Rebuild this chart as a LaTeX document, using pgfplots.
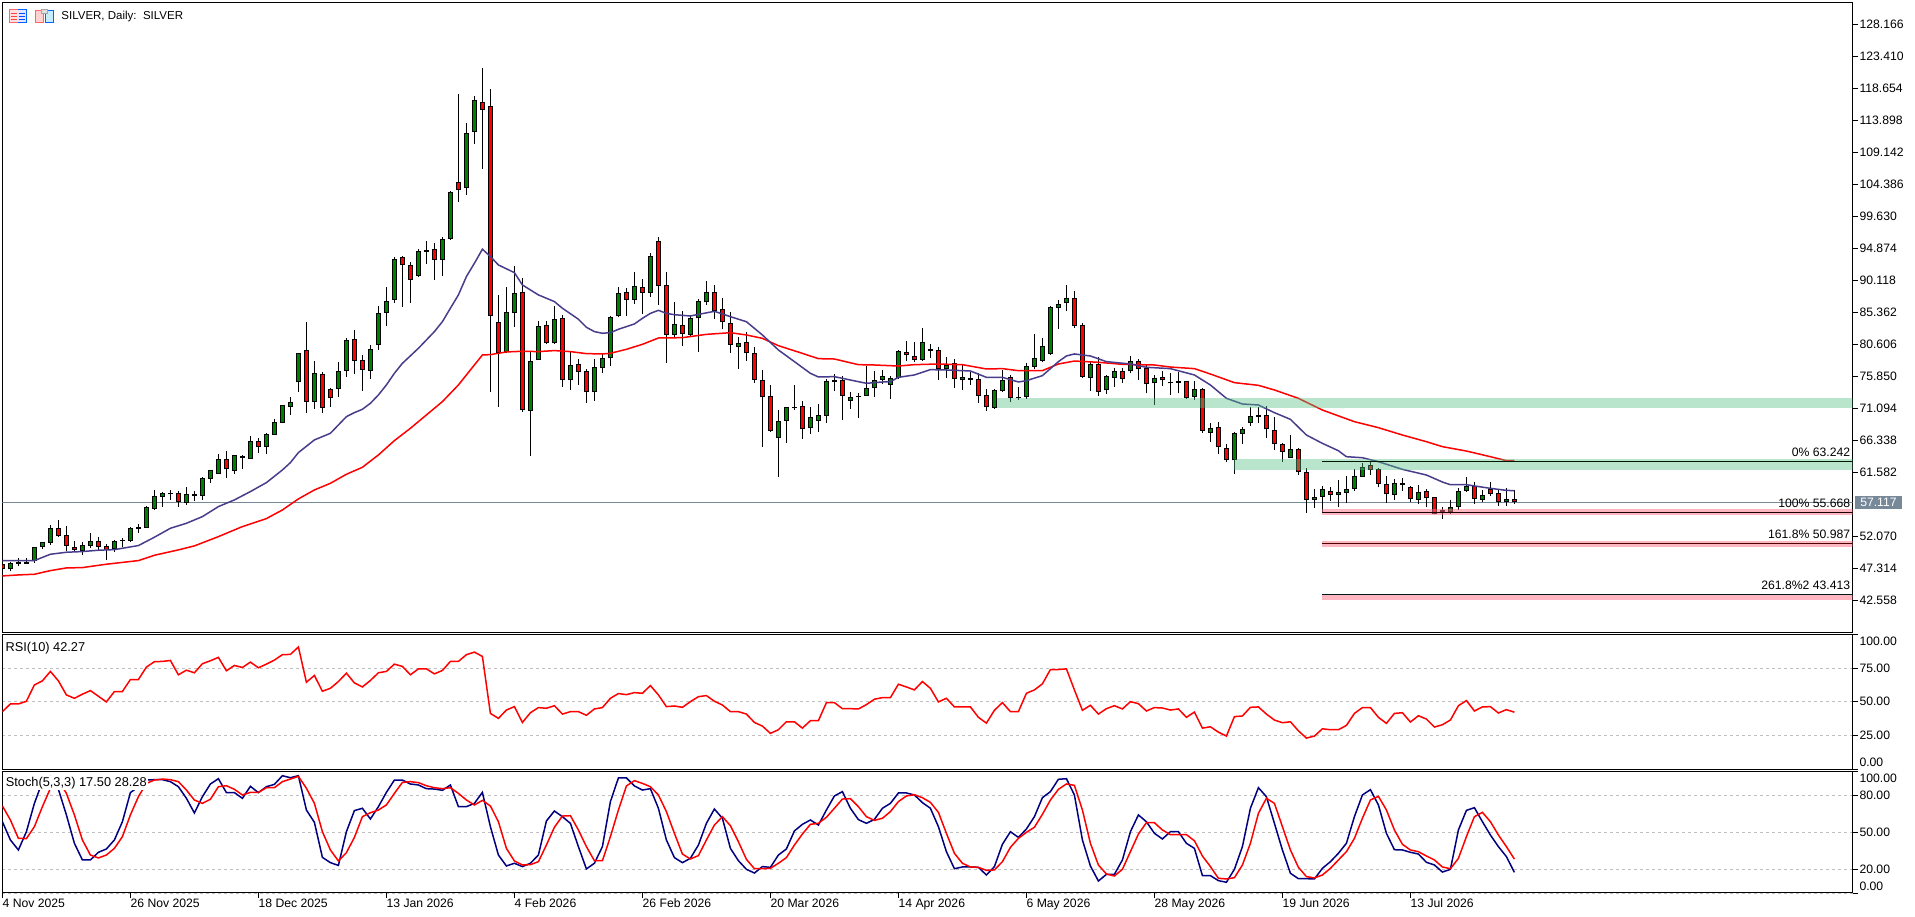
\documentclass[border=0pt]{standalone}
\usepackage{fontspec}
\setmainfont{Liberation Sans}
\usepackage{pgfplots}
\usepackage{pgfplotstable}
\pgfplotsset{compat=1.18}
\definecolor{bup}{RGB}{0,128,0}
\definecolor{bdn}{RGB}{255,0,0}
\definecolor{maA}{RGB}{72,61,139}
\definecolor{slate}{RGB}{119,136,153}
\definecolor{bandG}{RGB}{80,190,130}
\definecolor{bandP}{RGB}{255,110,130}
\definecolor{navyK}{RGB}{0,0,128}
\definecolor{gridc}{RGB}{192,192,192}
\newcommand{\chartfont}{\fontsize{12.2}{14}\selectfont}

% x bl bh lo hi : body low, body high, wick low, wick high
\pgfplotstableread{
x bl bh lo hi
1 47.22 48.12 46.92 48.27
2 48.07 48.27 47.67 48.86
3 48.07 48.27 47.97 48.86
4 48.41 50.49 48.21 50.59
5 50.49 51.23 50.29 51.28
6 51.18 53.31 50.89 53.76
10 50.00 50.79 49.35 51.23
11 50.74 51.38 50.44 52.57
14 50.24 51.38 49.75 51.53
15 51.38 51.58 50.59 51.93
16 51.48 53.31 51.33 53.51
17 53.26 53.46 52.67 53.91
18 53.41 56.43 53.31 56.63
19 56.23 58.06 56.09 59.00
20 57.92 58.56 56.53 58.71
21 58.36 58.51 57.52 59.00
23 57.12 58.36 56.83 59.40
24 58.16 58.36 57.42 58.91
25 58.16 60.74 57.52 60.94
26 60.69 61.93 60.09 61.93
27 61.43 63.56 61.38 64.30
29 61.88 64.15 61.38 64.15
31 63.66 66.23 63.61 67.02
33 65.44 67.27 64.35 67.42
34 67.22 69.05 67.17 69.55
35 69.00 71.58 68.90 71.63
36 71.38 72.02 70.14 72.77
37 74.99 79.30 73.56 79.35
39 72.12 76.33 71.03 78.16
42 74.05 76.63 72.82 78.01
43 76.73 81.23 75.84 81.53
46 76.73 79.89 75.49 80.54
47 80.59 85.25 79.80 86.30
48 85.34 87.03 83.40 89.10
49 87.28 93.27 86.83 93.67
52 90.84 94.46 90.69 94.76
53 94.41 94.61 92.57 95.94
55 93.12 96.24 90.79 96.64
56 96.29 103.27 96.14 103.37
58 103.91 111.98 102.82 113.47
59 112.23 116.88 110.40 117.52
63 79.50 85.40 79.30 89.11
64 85.25 88.22 83.26 92.28
66 70.78 78.11 64.05 79.55
67 78.36 83.31 78.31 84.10
69 80.78 84.36 80.68 86.34
71 75.29 77.52 73.85 79.55
74 73.51 77.22 72.27 78.41
75 77.07 78.56 76.43 79.30
76 78.56 84.66 77.42 84.85
77 84.80 88.22 84.66 89.11
79 87.18 89.31 86.59 91.34
81 88.30 93.70 87.71 94.14
84 82.02 83.60 81.77 86.87
86 82.02 84.49 81.77 84.84
87 84.49 87.02 79.54 87.36
88 86.87 88.35 86.52 90.04
92 80.18 80.78 77.02 81.67
97 66.77 69.20 60.98 70.88
98 69.30 71.28 66.03 71.28
99 71.13 71.28 70.88 74.59
101 68.26 69.79 67.37 71.28
102 69.30 70.09 67.66 71.77
103 70.04 75.14 69.00 75.43
104 75.09 75.28 73.65 76.23
106 72.27 72.76 71.03 73.50
107 72.76 72.91 69.69 73.36
108 73.01 74.10 72.96 77.41
109 74.10 75.28 72.86 76.62
110 75.38 75.88 74.74 76.82
111 74.59 75.58 72.56 75.93
112 75.58 79.59 75.48 79.79
115 78.35 80.93 78.20 83.01
116 79.69 79.84 78.55 80.68
118 76.92 77.56 75.58 78.75
120 75.38 75.73 73.80 77.56
121 75.38 75.58 74.59 76.57
124 71.18 73.80 71.03 73.95
125 73.65 75.28 73.55 76.82
127 72.66 72.81 72.36 74.24
128 72.86 77.36 72.56 77.81
129 77.31 78.55 77.02 82.17
130 78.20 80.33 78.00 81.52
131 79.24 86.13 79.05 86.32
132 86.08 86.57 82.96 87.16
133 86.72 87.46 85.58 89.39
136 75.68 77.66 73.70 78.06
138 73.80 75.88 73.21 76.13
139 75.68 76.62 74.34 77.07
141 76.62 78.11 76.32 78.90
144 74.84 75.58 71.62 76.03
146 74.84 74.99 73.11 76.32
147 74.94 75.14 73.36 76.57
149 72.86 73.95 72.36 75.19
151 67.51 68.16 66.13 68.90
154 63.41 67.41 61.43 67.56
155 67.36 68.01 65.83 68.31
156 69.00 69.94 68.55 71.28
157 69.89 70.09 69.00 71.38
161 63.79 65.08 63.74 67.16
164 57.56 57.91 56.32 59.14
165 58.00 59.09 55.68 59.59
167 58.30 58.65 56.42 60.48
168 58.60 59.09 57.01 61.07
169 59.19 61.02 58.89 62.06
170 60.97 62.36 60.87 63.05
174 58.30 59.98 57.51 60.58
175 59.78 59.98 58.89 60.73
177 57.56 58.65 56.86 59.78
180 55.68 55.97 54.74 56.42
181 55.68 56.42 55.43 57.51
182 56.47 58.80 56.02 59.29
183 58.80 59.59 58.70 60.87
185 57.56 58.20 57.16 58.94
188 57.16 57.61 56.67 59.24
}\tblUp
\pgfplotstableread{
x bl bh lo hi
0 47.22 47.97 47.12 48.00
7 52.22 53.31 52.03 54.50
8 50.64 52.27 49.95 53.66
9 50.14 50.49 49.95 51.38
12 50.59 51.38 50.10 51.98
13 50.14 50.64 48.61 50.94
22 57.17 58.51 56.53 58.81
28 62.07 63.56 60.84 64.80
30 63.71 64.00 62.17 64.15
32 65.44 66.23 64.55 66.73
38 72.12 79.75 70.49 83.90
40 71.23 76.18 70.49 76.48
41 72.72 73.95 71.33 74.10
44 78.21 81.38 76.23 82.77
45 76.87 78.26 73.71 79.05
50 92.38 93.57 86.24 93.72
51 90.15 92.38 86.83 92.82
54 93.12 94.76 90.20 95.65
57 103.62 104.70 101.83 117.82
60 115.49 116.58 106.68 121.63
61 84.89 115.99 73.61 118.56
62 79.30 83.90 71.38 87.97
65 70.93 88.37 70.64 90.45
68 80.78 83.46 80.64 84.10
70 75.29 84.50 74.35 85.00
72 76.48 77.67 74.60 78.41
73 73.51 76.63 71.97 76.92
78 87.18 88.37 84.90 88.96
80 88.30 89.10 85.13 90.28
82 89.34 95.93 86.47 96.52
83 82.07 89.39 77.91 91.37
85 82.21 83.45 80.38 85.58
89 85.58 88.35 84.44 89.44
90 83.90 85.83 82.86 87.46
91 80.58 83.75 79.39 85.43
93 79.29 80.93 78.20 82.51
94 75.38 79.29 74.94 80.28
95 72.76 75.28 65.43 76.82
96 67.76 72.91 67.61 74.59
100 68.01 71.42 66.57 72.17
105 73.01 75.28 69.39 75.93
113 78.99 79.44 78.15 81.08
114 78.35 78.85 78.05 80.93
117 76.92 79.74 75.33 80.18
119 75.43 77.81 74.19 78.40
122 73.01 75.43 71.92 76.32
123 71.28 73.06 70.73 73.99
126 72.71 75.73 72.07 76.03
134 83.40 87.46 83.10 88.55
135 75.83 83.45 75.68 83.85
137 73.60 77.66 73.01 78.80
140 75.43 76.62 74.94 77.07
142 76.92 78.11 75.33 78.40
143 74.69 77.07 73.36 77.56
145 75.28 75.73 74.44 76.72
148 72.71 75.14 72.56 75.24
150 67.76 73.95 67.51 74.10
152 65.34 68.31 64.39 69.05
153 63.41 65.19 63.21 65.83
158 68.01 70.09 66.72 71.47
159 65.78 67.86 64.94 69.79
160 64.69 65.78 63.20 65.92
162 61.62 65.08 61.22 65.18
163 57.46 61.62 55.63 62.21
166 58.30 58.80 57.36 59.49
171 62.01 62.66 61.22 63.30
172 59.93 62.06 59.39 62.21
173 58.35 59.83 57.11 61.07
176 57.61 59.39 57.26 59.59
178 57.76 58.80 56.42 59.09
179 55.48 57.91 55.38 58.00
184 57.61 59.54 56.96 60.13
186 58.35 59.09 58.15 60.18
187 57.16 58.50 56.67 59.14
189 57.16 57.61 56.96 58.94
}\tblDn

\pgfplotsset{
  panel/.style={
    at={(2.4pt,#1)}, anchor=south west, scale only axis,
    width=1850.2pt, xmin=0, xmax=231.275,
    axis line style={black,line width=1pt},
    tick style={black,line width=0.8pt},
    major tick length=5pt, tick align=outside,
    ytick pos=right, yticklabel pos=right,
    tick label style={font=\chartfont, text=black},
    yticklabel style={anchor=west, inner sep=1.7pt},
    clip mode=individual,
  },
  wick/.style={draw=none, no markers, forget plot,
    error bars/.cd, y dir=plus, y explicit, error mark=none,
    error bar style={line width=0.9pt, line cap=butt, solid, draw=black}},
  bodyo/.style={draw=none, no markers, forget plot,
    error bars/.cd, y dir=plus, y explicit, error mark=none,
    error bar style={line width=5pt, line cap=butt, solid, draw=black}},
  bodyi/.style={draw=none, no markers, forget plot,
    error bars/.cd, y dir=plus, y explicit, error mark=none,
    error bar style={line width=3pt, line cap=butt, solid, draw=#1}},
}

\begin{document}
\begin{tikzpicture}[x=1pt,y=1pt]
\path[use as bounding box] (0,0) rectangle (1915,917);
\fill[white] (0,0) rectangle (1915,917);

% ---------- price panel
\begin{axis}[panel=284.7pt, height=629.97pt,
  ymin=37.86, ymax=131.43,
  xtick=\empty,
  ytick={42.558,47.314,52.07,61.582,66.338,71.094,75.85,80.606,85.362,90.118,94.874,99.63,104.386,109.142,113.898,118.654,123.41,128.166},
  yticklabels={42.558,47.314,52.070,61.582,66.338,71.094,75.850,80.606,85.362,90.118,94.874,99.630,104.386,109.142,113.898,118.654,123.410,128.166},
]
% last price line
\addplot[slate, line width=1pt, forget plot] coordinates {(0,57.117) (231.275,57.117)};
% wicks
\addplot[wick] table[x=x, y=lo, y error plus expr=\thisrow{hi}-\thisrow{lo}] {\tblUp};
\addplot[wick] table[x=x, y=lo, y error plus expr=\thisrow{hi}-\thisrow{lo}] {\tblDn};
% bodies
\addplot[bodyo] table[x=x, y=bl, y error plus expr={max(\thisrow{bh}-\thisrow{bl},0.2)}] {\tblUp};
\addplot[bodyo] table[x=x, y=bl, y error plus expr={max(\thisrow{bh}-\thisrow{bl},0.2)}] {\tblDn};
\addplot[bodyi=bup] table[x=x, y expr=\thisrow{bl}+0.15, y error plus expr={max(\thisrow{bh}-\thisrow{bl}-0.3,0)}] {\tblUp};
\addplot[bodyi=bdn] table[x=x, y expr=\thisrow{bl}+0.15, y error plus expr={max(\thisrow{bh}-\thisrow{bl}-0.3,0)}] {\tblDn};
% slow MA
\addplot[bdn, line width=1.5pt] coordinates {
(0,46.23)(2,46.38)(4,46.48)(6,47.02)(8,47.42)(10,47.47)(13,47.97)(17,48.51)(19,49.30)(22,50.10)(24,50.69)(27,52.07)(30,53.56)(33,54.75)(35,56.03)(37,57.67)(39,59.00)(41,59.99)(43,61.33)(45,62.37)(47,64.20)(49,66.33)(51,68.16)(53,70.14)(55,72.12)(57,74.60)(59,77.57)(60,79.05)(61,79.10)(63,79.50)(65,79.60)(67,79.55)(69,79.70)(71,79.55)(73,79.25)(75,79.20)(76,79.30)(78,79.89)(80,80.63)(82,81.57)(85,81.62)(88,82.11)(91,82.36)(93,82.02)(95,81.52)(97,80.43)(100,79.29)(102,78.50)(104,78.45)(107,77.61)(109,77.56)(112,77.41)(114,77.61)(117,77.71)(120,77.61)(123,76.97)(125,77.02)(127,76.72)(130,76.72)(132,77.71)(134,78.15)(137,77.96)(140,77.66)(144,77.56)(146,77.26)(149,77.02)(151,76.22)(154,74.94)(157,74.54)(159,73.85)(162,72.61)(165,70.87)(169,69.14)(172,68.25)(175,67.16)(178,66.17)(180,65.43)(183,64.78)(186,63.94)(188,63.35)(189,63.35)};
% fast MA
\addplot[maA, line width=1.5pt] coordinates {
(0,48.51)(4,48.51)(6,49.45)(8,49.75)(10,49.85)(12,50.05)(14,50.14)(17,50.74)(19,51.98)(21,53.31)(23,54.05)(25,55.04)(27,56.53)(29,57.52)(31,58.76)(33,60.09)(35,61.97)(36,63.06)(37,64.55)(39,66.43)(41,67.42)(43,69.89)(44,70.49)(45,70.98)(46,71.87)(47,73.11)(48,74.60)(49,76.33)(50,77.81)(52,80.04)(54,82.52)(55,84.00)(56,85.99)(57,87.97)(58,90.69)(59,92.67)(60,94.76)(61,93.67)(62,92.42)(64,91.28)(65,89.45)(67,87.97)(69,86.98)(70,85.99)(72,84.36)(73,83.16)(74,82.52)(75,82.27)(76,82.37)(77,82.86)(79,83.66)(80,84.49)(81,85.23)(82,85.68)(83,85.23)(84,85.03)(86,84.84)(87,85.08)(89,85.53)(91,84.74)(93,83.99)(95,82.02)(97,79.79)(99,78.06)(101,76.32)(102,75.78)(104,75.83)(106,75.33)(108,74.84)(110,75.04)(111,75.09)(112,75.73)(114,76.08)(116,76.87)(118,76.82)(121,76.67)(123,75.73)(125,75.73)(127,75.04)(128,75.23)(130,75.98)(132,78.06)(133,78.90)(134,79.20)(136,78.90)(138,78.06)(141,77.71)(143,77.22)(146,77.02)(149,76.08)(151,74.59)(153,72.61)(155,71.77)(157,71.62)(159,70.48)(161,69.49)(163,67.16)(165,65.92)(167,64.83)(168,63.94)(170,63.79)(172,63.20)(175,62.06)(178,61.22)(180,60.18)(181,59.78)(183,59.78)(186,59.24)(188,58.94)(189,58.89)};
% zones
\addplot[fill=bandG, fill opacity=0.4, draw=none, forget plot] coordinates {(124.3,71.17)(231.275,71.17)(231.275,72.66)(124.3,72.66)} -- cycle;
\addplot[fill=bandG, fill opacity=0.4, draw=none, forget plot] coordinates {(154,62.01)(231.275,62.01)(231.275,63.60)(154,63.60)} -- cycle;
\addplot[fill=bandP, fill opacity=0.5, draw=none, forget plot] coordinates {(165,55.33)(231.275,55.33)(231.275,56.12)(165,56.12)} -- cycle;
\addplot[fill=bandP, fill opacity=0.5, draw=none, forget plot] coordinates {(165,50.58)(231.275,50.58)(231.275,51.37)(165,51.37)} -- cycle;
\addplot[fill=bandP, fill opacity=0.5, draw=none, forget plot] coordinates {(165,42.71)(231.275,42.71)(231.275,43.45)(165,43.45)} -- cycle;
% fibonacci levels
\addplot[black!90!green, line width=1pt, forget plot] coordinates {(165,63.242)(231.275,63.242)};
\addplot[black!90!red, line width=1pt, forget plot] coordinates {(165,55.668)(231.275,55.668)};
\addplot[black!70!red, line width=1pt, forget plot] coordinates {(165,50.987)(231.275,50.987)};
\addplot[black!80!teal, line width=1pt, forget plot] coordinates {(165,43.413)(231.275,43.413)};
\node[anchor=east, inner sep=0pt, font=\chartfont] at (axis cs:231,64.53) {0\% 63.242};
\node[anchor=east, inner sep=0pt, font=\chartfont] at (axis cs:231,56.96) {100\% 55.668};
\node[anchor=east, inner sep=0pt, font=\chartfont] at (axis cs:231,52.35) {161.8\% 50.987};
\node[anchor=east, inner sep=0pt, font=\chartfont] at (axis cs:231,44.77) {261.8\%2 43.413};
% last price tag
\node[anchor=west, fill=slate, text=white, inner sep=0pt, minimum width=46.5pt, minimum height=13.7pt, font=\chartfont] at (axis cs:231.575,57.117) {57.117};
\node[anchor=west, inner sep=0pt, font=\fontsize{11.5}{14}\selectfont] at (rel axis cs:0.0318,0.9772) {SILVER, Daily:\ \ SILVER};
\end{axis}

% ---------- RSI panel
\begin{axis}[panel=147.7pt, height=135pt,
  ymin=0, ymax=100, xtick=\empty,
  ytick={0,25,50,75,100}, yticklabels={,25.00,50.00,75.00,},
  ymajorgrids, grid style={gridc, line width=0.8pt, dash pattern=on 3pt off 3pt},
]
\addplot[bdn, line width=1.5pt] table[x=x,y=y] {
x y
0 42.7
1 48.4
2 48.4
3 50.4
4 62.5
5 65.5
6 72.5
7 65.5
8 55.1
9 52.6
10 55.6
11 58.3
12 54.1
13 49.9
14 57.6
15 57.6
16 66.5
17 66.5
18 75.7
19 79.7
20 79.9
21 80.6
22 70.0
23 73.4
24 71.5
25 78.2
26 80.4
27 82.9
28 73.0
29 76.9
30 75.4
31 79.4
32 75.2
33 77.9
34 80.9
35 84.9
36 85.1
37 90.6
38 64.5
39 69.5
40 57.8
41 60.0
42 65.0
43 71.2
44 64.0
45 61.0
46 65.8
47 71.5
48 72.5
49 77.9
50 76.2
51 70.0
52 74.4
53 74.4
54 70.7
55 73.2
56 79.9
57 79.9
58 84.9
59 86.8
60 83.6
61 41.4
62 37.7
63 43.9
64 46.4
65 34.7
66 41.9
67 45.7
68 45.2
69 47.1
70 40.9
71 42.7
72 42.7
73 40.0
74 44.7
75 45.7
76 52.6
77 56.1
78 55.3
79 56.8
80 56.3
81 62.0
82 55.1
83 46.4
84 46.9
85 45.9
86 50.1
87 53.8
88 54.6
89 50.4
90 47.6
91 42.7
92 42.7
93 40.9
94 34.7
95 32.0
96 26.6
97 29.3
98 35.2
99 35.2
100 30.5
101 36.0
102 36.0
103 49.4
104 49.4
105 44.9
106 44.9
107 44.7
108 47.9
109 51.9
110 53.1
111 53.1
112 63.0
113 61.0
114 58.8
115 65.0
116 60.0
117 49.9
118 52.6
119 46.2
120 46.2
121 46.2
122 38.5
123 34.2
124 43.7
125 49.4
126 42.7
127 42.7
128 56.3
129 58.8
130 63.3
131 73.9
132 73.9
133 74.4
134 58.8
135 43.7
136 47.4
137 40.9
138 44.9
139 47.1
140 44.7
141 50.1
142 48.6
143 43.2
144 45.7
145 45.4
146 43.9
147 44.7
148 38.5
149 42.4
150 30.5
151 31.5
152 27.5
153 24.6
154 39.0
155 39.5
156 45.9
157 46.2
158 40.9
159 36.5
160 34.5
161 35.2
162 28.5
163 23.1
164 24.6
165 30.0
166 29.3
167 29.3
168 32.5
169 41.4
170 45.7
171 45.7
172 38.5
173 34.0
174 41.4
175 41.9
176 35.0
177 39.7
178 37.2
179 31.3
180 33.0
181 36.5
182 47.1
183 50.9
184 43.2
185 46.2
186 46.4
187 41.7
188 44.2
189 42.27
};
\node[anchor=west, inner sep=0pt, font=\fontsize{12.8}{14}\selectfont] at (rel axis cs:0.0016,0.9) {RSI(10) 42.27};
\node[anchor=west, inner sep=0pt, xshift=6.7pt, font=\chartfont] at (rel axis cs:1,0.945) {100.00};
\node[anchor=west, inner sep=0pt, xshift=6.7pt, font=\chartfont] at (rel axis cs:1,0.049) {0.00};
\end{axis}

% ---------- Stochastic panel
\begin{axis}[panel=24pt, height=121.7pt,
  ymin=0.8, ymax=99.5,
  xtick={0,16,32,48,64,80,96,112,128,144,160,176},
  xticklabels={4 Nov 2025,26 Nov 2025,18 Dec 2025,13 Jan 2026,4 Feb 2026,26 Feb 2026,20 Mar 2026,14 Apr 2026,6 May 2026,28 May 2026,19 Jun 2026,13 Jul 2026},
  xtick pos=bottom,
  xticklabel style={anchor=north west, inner sep=0pt, yshift=-0.5pt},
  ytick={0.8,20,50,80,99.5}, yticklabels={,20.00,50.00,80.00,},
  ymajorgrids, grid style={gridc, line width=0.8pt, dash pattern=on 3pt off 3pt},
]
\addplot[navyK, line width=1.5pt] table[x=x,y=y] {
x y
0 58.6
1 43.8
2 35.7
3 50.5
4 73.5
5 91.1
6 95.1
7 84.9
8 64.1
9 41.1
10 27.6
11 27.6
12 33.8
13 36.5
14 43.8
15 58.6
16 82.2
17 87.0
18 92.4
19 92.7
20 92.7
21 91.1
22 87.0
23 77.6
24 65.7
25 78.9
26 89.2
27 93.5
28 82.2
29 82.2
30 77.6
31 87.3
32 82.2
33 87.0
34 88.9
35 95.9
36 94.3
37 95.9
38 68.1
39 58.1
40 29.7
41 25.4
42 23.2
43 50.5
44 67.6
45 69.5
46 60.8
47 70.8
48 82.4
49 92.4
50 92.4
51 89.2
52 88.4
53 85.4
54 85.1
55 84.1
56 88.4
57 70.8
58 70.8
59 73.5
60 82.4
61 54.6
62 31.6
63 22.7
64 24.9
65 22.2
66 24.9
67 31.6
68 59.2
69 67.3
70 62.7
71 57.3
72 38.4
73 20.3
74 24.9
75 38.4
76 74.9
77 94.1
78 94.1
79 87.6
80 84.3
81 85.4
82 69.5
83 43.8
84 29.5
85 25.4
86 28.9
87 39.7
88 57.3
89 68.9
90 61.4
91 37.0
92 27.0
93 20.0
94 17.0
95 22.2
96 21.6
97 31.6
98 36.5
99 51.1
100 56.5
101 60.0
102 55.9
103 68.1
104 79.5
105 83.0
106 69.5
107 60.3
108 57.3
109 60.5
110 69.5
111 73.5
112 81.9
113 81.9
114 80.3
115 74.1
116 69.5
117 54.6
118 34.3
119 20.5
120 21.9
121 21.9
122 21.6
123 15.4
124 22.2
125 40.3
126 50.5
127 45.9
128 52.7
129 62.7
130 78.1
131 83.0
132 93.0
133 93.5
134 80.3
135 43.8
136 22.7
137 10.5
138 15.9
139 15.9
140 27.6
141 50.5
142 64.1
143 58.6
144 49.2
145 44.6
146 50.5
147 50.5
148 41.1
149 37.0
150 14.9
151 14.9
152 10.8
153 9.5
154 20.0
155 38.4
156 69.5
157 86.2
158 78.9
159 57.3
160 35.7
161 16.8
162 12.4
163 12.4
164 12.2
165 20.8
166 26.2
167 33.0
168 41.1
169 62.7
170 80.3
171 84.6
172 72.2
173 49.2
174 35.9
175 35.7
176 33.8
177 32.4
178 25.7
179 23.5
180 17.8
181 20.0
182 51.9
183 67.8
184 70.0
185 58.6
186 47.8
187 38.4
188 30.3
189 17.5
};
\addplot[bdn, line width=1.5pt] table[x=x,y=y] {
x y
0 71.4
1 60.0
2 45.1
3 44.9
4 54.6
5 70.8
6 85.7
7 92.4
8 81.6
9 64.1
10 43.8
11 31.6
12 29.2
13 31.6
14 37.0
15 46.5
16 64.1
17 78.9
18 89.7
19 92.4
20 93.2
21 92.7
22 91.1
23 84.3
24 76.2
25 73.5
26 76.8
27 87.0
28 87.8
29 84.9
30 80.3
31 82.4
32 82.4
33 86.2
34 86.2
35 91.1
36 93.2
37 95.4
38 85.7
39 73.5
40 50.5
41 35.7
42 26.8
43 33.5
44 45.9
45 62.7
46 65.9
47 68.1
48 72.2
49 81.6
50 90.5
51 91.1
52 90.3
53 87.8
54 86.2
55 85.4
56 86.2
57 81.6
58 76.2
59 72.2
60 75.9
61 71.4
62 58.6
63 37.0
64 26.8
65 23.5
66 23.8
67 26.2
68 39.7
69 54.1
70 63.2
71 63.5
72 51.9
73 38.4
74 27.0
75 27.0
76 46.5
77 68.1
78 87.6
79 91.9
80 89.7
81 87.0
82 80.3
83 66.8
84 49.2
85 32.4
86 28.4
87 31.1
88 43.8
89 55.9
90 62.7
91 55.4
92 42.4
93 28.1
94 20.5
95 20.5
96 20.8
97 24.9
98 29.5
99 39.7
100 48.6
101 56.5
102 57.3
103 62.2
104 69.5
105 77.0
106 77.3
107 70.8
108 62.7
109 59.7
110 61.4
111 66.8
112 74.9
113 79.5
114 80.5
115 78.1
116 74.3
117 66.2
118 49.2
119 33.0
120 24.9
121 21.9
122 21.6
123 19.2
124 19.5
125 26.2
126 37.8
127 45.1
128 50.0
129 54.1
130 64.6
131 76.2
132 84.9
133 89.2
134 88.1
135 68.1
136 41.1
137 23.5
138 16.2
139 14.6
140 20.0
141 34.3
142 48.6
143 57.8
144 57.8
145 51.9
146 48.1
147 48.1
148 48.1
149 43.2
150 30.8
151 22.2
152 12.7
153 12.2
154 13.2
155 23.5
156 41.1
157 65.4
158 77.6
159 73.5
160 54.6
161 35.7
162 21.6
163 14.1
164 13.0
165 15.4
166 20.8
167 27.6
168 34.3
169 45.1
170 61.4
171 76.2
172 79.2
173 68.1
174 51.9
175 40.3
176 35.7
177 34.3
178 30.8
179 27.6
180 21.9
181 20.5
182 28.9
183 46.5
184 62.7
185 66.2
186 58.6
187 47.8
188 38.4
189 28.28
};
\node[anchor=west, fill=white, inner sep=1pt, font=\fontsize{12.8}{14}\selectfont] at (rel axis cs:0.0012,0.906) {Stoch(5,3,3) 17.50 28.28};
\node[anchor=west, inner sep=0pt, xshift=6.7pt, font=\chartfont] at (rel axis cs:1,0.945) {100.00};
\node[anchor=west, inner sep=0pt, xshift=6.7pt, font=\chartfont] at (rel axis cs:1,0.0575) {0.00};
\end{axis}

% ---------- toolbar icons
\begin{scope}[line width=0.8pt]
\fill[red!12] (9,894.5) rectangle (17.7,907.5);
\fill[blue!10] (17.7,894.5) rectangle (26.5,907.5);
\draw[red!60] (17.7,907.5) -- (9,907.5) -- (9,894.5) -- (17.7,894.5);
\draw[blue!60!cyan] (17.7,907.5) -- (26.5,907.5) -- (26.5,894.5) -- (17.7,894.5);
\foreach \yy in {898,901,904} {
  \draw[red!75] (10.5,\yy) -- (17,\yy);
  \draw[blue!70!cyan] (18.5,\yy) -- (25,\yy);
}
\draw[red!60, fill=red!18] (35.8,894.8) rectangle (43,907) ;
\draw[blue!60!cyan, fill=cyan!22] (45.5,894.8) rectangle (53,907);
\draw[black!35, fill=black!12] (41,903.5) rectangle (47.5,907.3);
\end{scope}
\end{tikzpicture}
\end{document}
